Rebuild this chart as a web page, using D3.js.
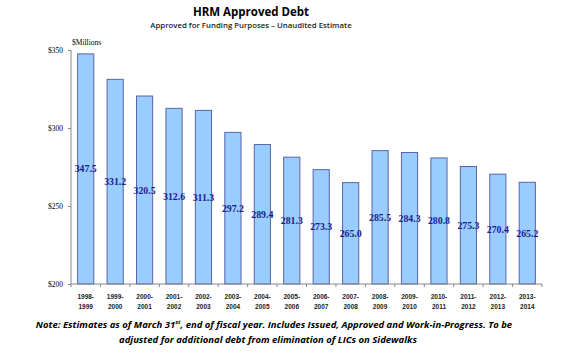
<!DOCTYPE html>
<html>
<head>
<meta charset="utf-8">
<script src="https://cdn.jsdelivr.net/npm/d3@7"></script>
<style>
  body { margin: 0; background: #fff; }
  svg { display: block; }
</style>
</head>
<body>
<div id="chart"></div>
<script>
const years = ['1998-1999', '1999-2000', '2000-2001', '2001-2002', '2002-2003', '2003-2004', '2004-2005', '2005-2006',
  '2006-2007', '2007-2008', '2008-2009', '2009-2010', '2010-2011', '2011-2012', '2012-2013', '2013-2014'];
const debt = [347.5, 331.2, 320.5, 312.6, 311.3, 297.2, 289.4, 281.3, 273.3, 265.0, 285.5, 284.3, 280.8, 275.3, 270.4, 265.2];
const yTicks = [200, 250, 300, 350];

const W = 570, H = 354;
const margin = { top: 50, right: 28, bottom: 70, left: 71 };
const width = W - margin.left - margin.right;
const height = H - margin.top - margin.bottom;

const svg = d3.select('#chart').append('svg')
  .attr('width', W)
  .attr('height', H);

svg.append('text')
  .attr('x', 251).attr('y', 16)
  .attr('text-anchor', 'middle')
  .style('font-family', '"Open Sans", sans-serif')
  .style('font-weight', 'bold')
  .style('font-size', '11.5px')
  .text('HRM Approved Debt');

svg.append('text')
  .attr('x', 251).attr('y', 28)
  .attr('text-anchor', 'middle')
  .style('font-family', '"Open Sans", sans-serif')
  .style('font-size', '7.8px')
  .style('font-weight', 600)
  .style('fill', '#222')
  .text('Approved for Funding Purposes \u2013 Unaudited Estimate');

const g = svg.append('g').attr('transform', `translate(${margin.left},${margin.top})`);

const x = d3.scaleBand().domain(years).range([0, width]).paddingInner(0.45).paddingOuter(0.225);
const y = d3.scaleLinear().domain([200, 350]).range([height, 0]);

g.append('text')
  .attr('x', 1).attr('y', -5)
  .style('font-family', '"Liberation Serif", serif')
  .style('font-size', '7.5px')
  .text('$Millions');

g.selectAll('.bar').data(years).join('rect')
  .attr('class', 'bar')
  .attr('x', d => x(d))
  .attr('y', (d, i) => y(debt[i]))
  .attr('width', x.bandwidth())
  .attr('height', (d, i) => height - y(debt[i]))
  .attr('fill', '#99ccff')
  .attr('stroke', '#5a64a8')
  .attr('stroke-width', 1);

g.selectAll('.val').data(years).join('text')
  .attr('class', 'val')
  .attr('x', d => x(d) + x.bandwidth() / 2)
  .attr('y', (d, i) => (y(debt[i]) + height) / 2 + 3.5)
  .attr('text-anchor', 'middle')
  .style('font-family', '"Liberation Serif", serif')
  .style('font-weight', 'bold')
  .style('font-size', '9.8px')
  .style('fill', '#1c1c8c')
  .text((d, i) => debt[i].toFixed(1));

const yAxis = g.append('g')
  .call(d3.axisLeft(y).tickValues(yTicks).tickSize(3).tickFormat(d => '$' + d));
yAxis.select('.domain').attr('stroke', '#888').attr('d', `M0,${height}V0`);
yAxis.selectAll('.tick line').attr('stroke', '#888');
yAxis.selectAll('text')
  .attr('x', -8)
  .style('font-family', '"Liberation Serif", serif')
  .style('font-size', '7.5px')
  .style('fill', '#000');

const xAxis = g.append('g')
  .attr('transform', `translate(0,${height})`);
xAxis.append('path')
  .attr('d', `M0,0H${width}`)
  .attr('stroke', '#888');
const step = x.step();
xAxis.selectAll('.tk').data(d3.range(years.length + 1)).join('line')
  .attr('class', 'tk')
  .attr('x1', i => i * step).attr('x2', i => i * step)
  .attr('y1', 0).attr('y2', 3)
  .attr('stroke', '#888');

const labels = xAxis.selectAll('.xl').data(years).join('text')
  .attr('class', 'xl')
  .attr('text-anchor', 'middle')
  .attr('transform', d => `translate(${x(d) + x.bandwidth() / 2},0)`)
  .style('font-family', '"Liberation Sans", sans-serif')
  .style('font-size', '6.5px')
  .style('font-weight', 'bold')
  .style('fill', '#222');
labels.append('tspan').attr('x', 0).attr('y', 15).text(d => d.split('-')[0] + '-');
labels.append('tspan').attr('x', 0).attr('y', 25).text(d => d.split('-')[1]);

const note = svg.append('text')
  .attr('text-anchor', 'middle')
  .style('font-family', '"Open Sans", sans-serif')
  .style('font-weight', 'bold')
  .style('font-style', 'italic')
  .style('font-size', '9.5px');
const l1 = note.append('tspan').attr('x', 274).attr('y', 328);
l1.append('tspan').text('Note: Estimates as of March 31');
l1.append('tspan').attr('dy', -4).style('font-size', '6px').text('st');
l1.append('tspan').attr('dy', 4).text(',  end of fiscal year.  Includes Issued, Approved and Work-in-Progress.  To be');
note.append('tspan').attr('x', 268).attr('y', 343)
  .text('adjusted for additional debt from elimination of LICs on Sidewalks');
</script>
</body>
</html>
